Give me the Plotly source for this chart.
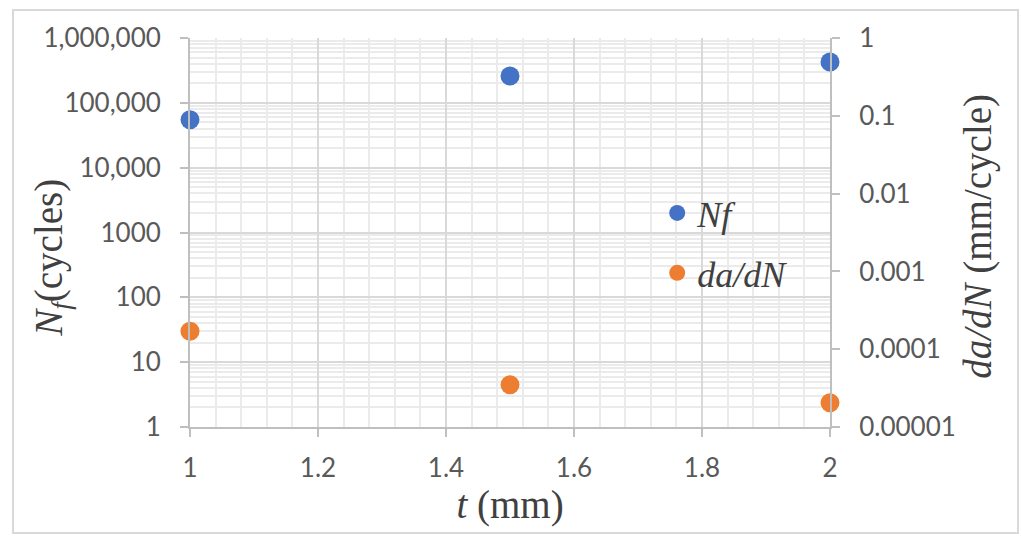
import plotly.graph_objects as go

# ---- data ----
t_mm = [1.0, 1.5, 2.0]
nf_cycles = [55000, 260000, 425000]
dadn_mm_per_cycle = [1.7e-4, 3.5e-5, 2.05e-5]

left_tickvals = [1, 10, 100, 1000, 10000, 100000, 1000000]
left_ticktext = ["1", "10", "100", "1000", "10,000", "100,000", "1,000,000"]
right_tickvals = [1e-5, 1e-4, 1e-3, 1e-2, 1e-1, 1]
right_ticktext = ["0.00001", "0.0001", "0.001", "0.01", "0.1", "1"]

BLUE = "#4472C4"
ORANGE = "#ED7D31"
TICK_FONT = dict(family="Lato", size=26, color="#595959")
SERIF = "Liberation Serif, Times New Roman, serif"
TITLE_FONT = dict(family=SERIF, size=39, color="#404040")
MAJOR_GRID = "#d9d9d9"
MINOR_GRID = "#ebebeb"
AXIS_LINE = "#bfbfbf"

fig = go.Figure()
fig.add_trace(go.Scatter(
    x=t_mm, y=nf_cycles, mode="markers", name="<i>Nf</i>",
    marker=dict(color=BLUE, size=19), cliponaxis=False,
    yaxis="y", legend="legend",
))
fig.add_trace(go.Scatter(
    x=t_mm, y=dadn_mm_per_cycle, mode="markers", name="<i>da/dN</i>",
    marker=dict(color=ORANGE, size=19), cliponaxis=False,
    yaxis="y2", legend="legend2",
))

legend_common = dict(
    bgcolor="rgba(0,0,0,0)", borderwidth=0,
    font=dict(family=SERIF, size=36, color="#404040"),
    xanchor="left", yanchor="middle", itemsizing="trace",
)

fig.update_layout(
    width=1022, height=539,
    margin=dict(l=190, r=192, t=38, b=112),
    paper_bgcolor="white", plot_bgcolor="white",
    showlegend=True,
    legend=dict(x=0.73, y=0.550, **legend_common),
    legend2=dict(x=0.73, y=0.396, **legend_common),
    xaxis=dict(
        range=[1, 2], dtick=0.2, tick0=1,
        showgrid=True, gridcolor=MAJOR_GRID, gridwidth=2,
        minor=dict(dtick=0.04, showgrid=True, gridcolor=MINOR_GRID, gridwidth=1.5, ticklen=0),
        showline=True, linecolor=AXIS_LINE, linewidth=2,
        ticks="outside", ticklen=8, tickwidth=2, tickcolor=AXIS_LINE,
        tickfont=TICK_FONT, ticklabelstandoff=9,
        zeroline=False,
        title=dict(text="<i>t</i> (mm)", font=TITLE_FONT, standoff=8),
    ),
    yaxis=dict(
        type="log", range=[0, 6],
        tickmode="array", tickvals=left_tickvals, ticktext=left_ticktext,
        showgrid=True, gridcolor=MAJOR_GRID, gridwidth=2,
        minor=dict(dtick="D1", showgrid=True, gridcolor=MINOR_GRID, gridwidth=1.5, ticklen=0),
        showline=True, linecolor=AXIS_LINE, linewidth=2,
        ticks="outside", ticklen=8, tickwidth=2, tickcolor=AXIS_LINE,
        tickfont=TICK_FONT, ticklabelstandoff=14,
        zeroline=False,
    ),
    yaxis2=dict(
        type="log", range=[-5, 0], overlaying="y", side="right",
        tickmode="array", tickvals=right_tickvals, ticktext=right_ticktext,
        showgrid=False,
        showline=True, linecolor=AXIS_LINE, linewidth=2,
        ticks="outside", ticklen=8, tickwidth=2, tickcolor=AXIS_LINE,
        tickfont=TICK_FONT, ticklabelstandoff=14,
        zeroline=False,
    ),
    annotations=[
        dict(text="<i>N<sub>f</sub></i>(cycles)", textangle=-90,
             xref="paper", yref="paper", x=-0.2156, y=0.435,
             xanchor="center", yanchor="middle", showarrow=False,
             font=TITLE_FONT),
        dict(text="<i>da/dN</i> (mm/cycle)", textangle=-90,
             xref="paper", yref="paper", x=1.231, y=0.491,
             xanchor="center", yanchor="middle", showarrow=False,
             font=TITLE_FONT),
    ],
    shapes=[
        dict(type="rect", xref="paper", yref="paper",
             x0=-0.2766, x1=1.2938, y0=-0.2725, y1=1.072,
             line=dict(color="#d9d9d9", width=2), fillcolor="rgba(0,0,0,0)", layer="below"),
    ],
)

fig.write_html("out.html", config={"displayModeBar": False},
               post_script="document.body.style.margin='0';")
